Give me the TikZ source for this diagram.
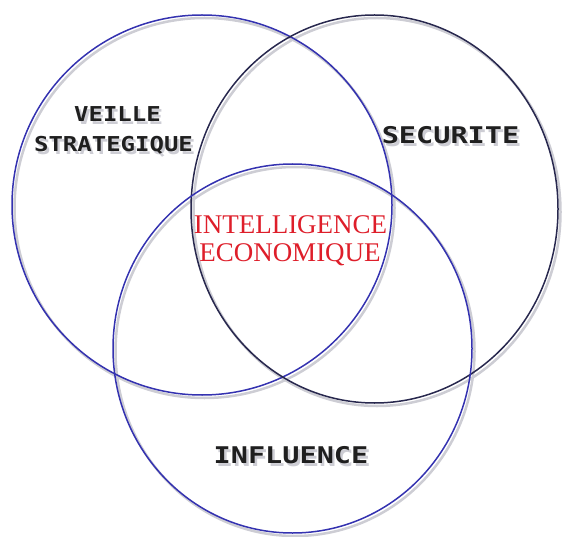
\documentclass[tikz,border=0pt]{standalone}
\usepackage{fontspec}
\setmainfont{Liberation Serif}
\newfontfamily\capsfont{DejaVu Sans Mono}

\definecolor{ringBlue}{RGB}{52,50,176}
\definecolor{ringNavy}{RGB}{40,40,78}
\definecolor{ieRed}{RGB}{222,30,42}
\definecolor{dropShade}{RGB}{205,205,212}

\begin{document}
\begin{tikzpicture}[x=1pt,y=-1pt,
		ring/.style={line width=1.5pt},
		ringshadow/.style={line width=2.5pt,dropShade,xshift=2.5pt,yshift=-3pt},
		caps/.style={font=\capsfont\bfseries\fontsize{23}{28}\selectfont,xscale=1.24,anchor=base,inner sep=0pt,text=black!88},
		smallcaps/.style={caps,font=\capsfont\bfseries\fontsize{20.5}{25}\selectfont,xscale=1.17/1.24},
		capsshadow/.style={text=dropShade,xshift=2pt,yshift=-3pt},
		ie/.style={font=\fontsize{27}{30}\selectfont,anchor=base,inner sep=0pt,text=ieRed}]

		\useasboundingbox (0,0) rectangle (564,537);

		% soft drop shadows under the three rings
		\draw [ringshadow] (202,205) ellipse [x radius=190, y radius=190];
		\draw [ringshadow] (374.5,209) ellipse [x radius=183.5, y radius=194];
		\draw [ringshadow] (292.5,348.5) ellipse [x radius=179.5, y radius=184.5];

		\draw [ring,ringBlue] (202,205) ellipse [x radius=190, y radius=190];
		\draw [ring,ringNavy] (374.5,209) ellipse [x radius=183.5, y radius=194];
		\draw [ring,ringBlue] (292.5,348.5) ellipse [x radius=179.5, y radius=184.5];

		% labels of the three domains, shadow first
		\node [smallcaps,capsshadow] (veilleShadow) at (117.5,121.7) {VEILLE};
		\node [smallcaps,capsshadow] (strategiqueShadow) at (113.5,151.7) {STRATEGIQUE};
		\node [caps,capsshadow] (securiteShadow) at (450.5,143.3) {SECURITE};
		\node [caps,capsshadow] (influenceShadow) at (291,463.3) {INFLUENCE};

		\node [smallcaps] (veille) at (117.5,121.7) {VEILLE};
		\node [smallcaps] (strategique) at (113.5,151.7) {STRATEGIQUE};
		\node [caps] (securite) at (450.5,143.3) {SECURITE};
		\node [caps] (influence) at (291,463.3) {INFLUENCE};

		% common core
		\node [ie] (intelligence) at (290.5,233.3) {INTELLIGENCE};
		\node [ie] (economique) at (290,261.7) {ECONOMIQUE};
	\end{tikzpicture}
\end{document}
